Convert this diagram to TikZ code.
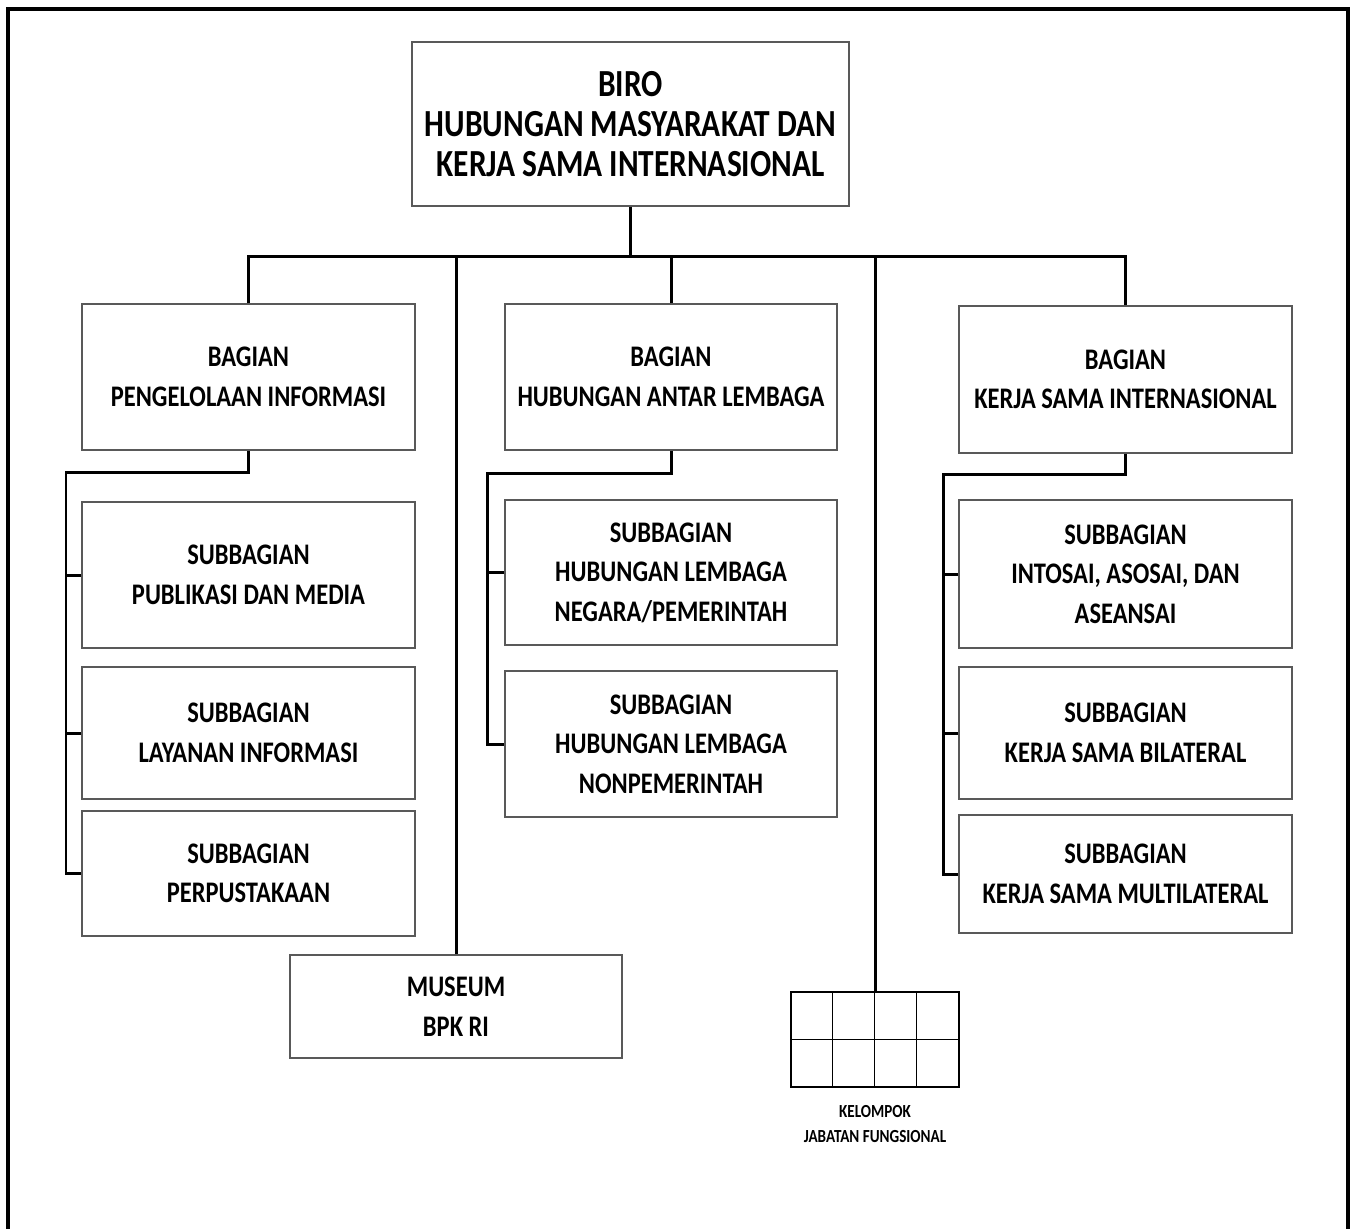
\documentclass[tikz,border=0pt]{standalone}
\usepackage{fontspec}
\setmainfont{Carlito}[FakeStretch=0.82]
\usetikzlibrary{calc}

\def\px{0.02cm}
\tikzset{
  box/.style 2 args={draw=gray!70!black, line width=0.6pt, align=center, inner sep=0pt,
    font=\bfseries\fontsize{17}{22.5}\selectfont,
    minimum width=#1*\px, minimum height=#2*\px},
  conn/.style={line width=1.7pt},
  frame/.style={line width=2.3pt}
}

\begin{document}
\begin{tikzpicture}[x=\px, y=-\px]
\useasboundingbox (0,0) rectangle (1355,1228);

% outer frame (open at the bottom)
\draw[frame] (8,1260) -- (8,9) -- (1348,9) -- (1348,1260);

% Head
\node[box={437}{164}, font=\bfseries\fontsize{21.8}{23}\selectfont] (biro) at (630.5,124)
  {BIRO\\HUBUNGAN MASYARAKAT DAN\\KERJA SAMA INTERNASIONAL};

% Bagian
\node[box={333}{146}] (pi)  at (248.5,377)  {BAGIAN\\PENGELOLAAN INFORMASI};
\node[box={332}{146}] (hal) at (671,377)    {BAGIAN\\HUBUNGAN ANTAR LEMBAGA};
\node[box={333}{147}] (ksi) at (1125.5,379.5) {BAGIAN\\KERJA SAMA INTERNASIONAL};

% Subbagian, left column
\node[box={333}{146}] (pub) at (248.5,575)   {SUBBAGIAN\\PUBLIKASI DAN MEDIA};
\node[box={333}{132}] (lay) at (248.5,733)   {SUBBAGIAN\\LAYANAN INFORMASI};
\node[box={333}{125}] (pus) at (248.5,873.5) {SUBBAGIAN\\PERPUSTAKAAN};

% Subbagian, middle column
\node[box={332}{145}] (hlp) at (671,572.5) {SUBBAGIAN\\HUBUNGAN LEMBAGA\\NEGARA/PEMERINTAH};
\node[box={332}{146}] (hln) at (671,744)   {SUBBAGIAN\\HUBUNGAN LEMBAGA\\NONPEMERINTAH};

% Subbagian, right column
\node[box={333}{148}] (ias) at (1125.5,574) {SUBBAGIAN\\INTOSAI, ASOSAI, DAN\\ASEANSAI};
\node[box={333}{132}] (bil) at (1125.5,733) {SUBBAGIAN\\KERJA SAMA BILATERAL};
\node[box={333}{118}] (mul) at (1125.5,874) {SUBBAGIAN\\KERJA SAMA MULTILATERAL};

% Museum
\node[box={332}{103}] (mus) at (456,1006.5) {MUSEUM\\BPK RI};

% Kelompok jabatan fungsional
\node[draw, line width=0.7pt, minimum width=168*\px, minimum height=95*\px, inner sep=0pt]
  (grid) at (875,1039.5) {};
\foreach \i in {1,2,3}
  \draw[line width=0.7pt] ($(grid.north west)+(\i*42,0)$) -- ($(grid.south west)+(\i*42,0)$);
\draw[line width=0.7pt] (grid.west) -- (grid.east);
\node[align=center, font=\bfseries\fontsize{10.5}{14.5}\selectfont] (kjf) at (875,1124)
  {KELOMPOK\\JABATAN FUNGSIONAL};

% connectors
\coordinate (bus) at (0,256);
\draw[conn] (biro.south) -- (biro.south |- bus);
\draw[conn] (pi.north) |- (ksi.north |- bus) -- (ksi.north);
\foreach \n in {hal,mus,grid}
  \draw[conn] (\n.north) -- (\n.north |- bus);

\coordinate (lsp) at (66,472);
\draw[conn] (pi.south) |- (lsp) |- (pus.west);
\draw[conn] (pub.west) -- (pub.west -| lsp);
\draw[conn] (lay.west) -- (lay.west -| lsp);

\coordinate (msp) at (487,473);
\draw[conn] (hal.south) |- (msp) |- (hln.west);
\draw[conn] (hlp.west) -- (hlp.west -| msp);

\coordinate (rsp) at (943,474);
\draw[conn] (ksi.south) |- (rsp) |- (mul.west);
\draw[conn] (ias.west) -- (ias.west -| rsp);
\draw[conn] (bil.west) -- (bil.west -| rsp);

\end{tikzpicture}
\end{document}
